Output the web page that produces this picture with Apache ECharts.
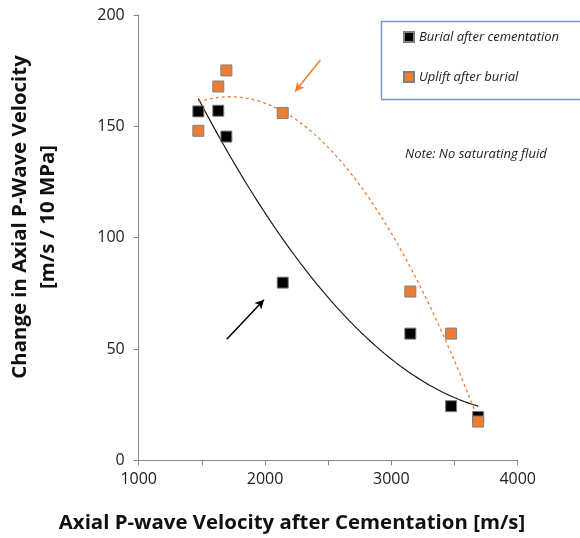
<!DOCTYPE html>
<html><head><meta charset="utf-8">
<script src="https://cdn.jsdelivr.net/npm/echarts@6/dist/echarts.min.js"></script>
<style>html,body{margin:0;padding:0;background:#fff}#c{width:580px;height:538px}</style>
</head><body><div id="c"></div>
<script>
// ---- data ----
const velocity = [1472, 1630, 1694, 2140, 3150, 3473, 3687];
const burialChange = [156.7, 157, 145.4, 79.8, 56.9, 24.3, 19.5];
const upliftChange = [148, 167.9, 175.1, 156, 75.8, 56.9, 17.4];
const seriesNames = ['Burial after cementation', 'Uplift after burial'];
const xAxisTitle = 'Axial P-wave Velocity after Cementation [m/s]';
const yAxisTitle = 'Change in Axial P-Wave Velocity\n[m/s / 10 MPa]';
const noteText = 'Note: No saturating fluid';
// annotation arrows [x0,y0,x1,y1] in data units
const orangeArrow = [2438, 179.8, 2238, 165.6];
const blackArrow = [1697, 54.4, 1992, 72.1];

// quadratic least-squares trendline (like Excel poly order 2)
function polyfit2(xs, ys) {
  const n = xs.length, c = 2500, s = 1000;
  let S = [0,0,0,0,0], T = [0,0,0];
  for (let i = 0; i < n; i++) {
    const u = (xs[i] - c) / s;
    let p = 1;
    for (let k = 0; k < 5; k++) { S[k] += p; if (k < 3) T[k] += p * ys[i]; p *= u; }
  }
  const A = [[S[0],S[1],S[2],T[0]],[S[1],S[2],S[3],T[1]],[S[2],S[3],S[4],T[2]]];
  for (let i = 0; i < 3; i++) {
    for (let j = i + 1; j < 3; j++) {
      const f = A[j][i] / A[i][i];
      for (let k = i; k < 4; k++) A[j][k] -= f * A[i][k];
    }
  }
  const r = [0,0,0];
  for (let i = 2; i >= 0; i--) {
    let v = A[i][3];
    for (let k = i + 1; k < 3; k++) v -= A[i][k] * r[k];
    r[i] = v / A[i][i];
  }
  return x => { const u = (x - c) / s; return r[0] + r[1]*u + r[2]*u*u; };
}
function trend(xs, ys) {
  const f = polyfit2(xs, ys);
  const lo = Math.min(...xs), hi = Math.max(...xs), out = [];
  for (let i = 0; i <= 120; i++) { const x = lo + (hi - lo) * i / 120; out.push([x, f(x)]); }
  return out;
}
const pairs = (xs, ys) => xs.map((x, i) => [x, ys[i]]);

const chart = echarts.init(document.getElementById('c'), null, {renderer: 'canvas'});
const axisCol = '#868686';
const font = '"Open Sans", "Liberation Sans", sans-serif';
chart.setOption({
  animation: false,
  backgroundColor: '#fff',
  grid: {left: 138.7, right: 62.3, top: 15, bottom: 77.7, containLabel: false},
  xAxis: {
    type: 'value', min: 1000, max: 4000, interval: 500,
    axisLine: {show: true, lineStyle: {color: axisCol, width: 1}},
    axisTick: {show: true, length: 5, lineStyle: {color: axisCol}},
    splitLine: {show: false},
    axisLabel: {color: '#222', fontSize: 16, fontFamily: font, margin: 11,
      formatter: v => (v % 1000 === 0 ? String(v) : '')}
  },
  yAxis: {
    type: 'value', min: 0, max: 200, interval: 50,
    axisLine: {show: true, lineStyle: {color: axisCol, width: 1}},
    axisTick: {show: true, length: 5, lineStyle: {color: axisCol}},
    splitLine: {show: false},
    axisLabel: {color: '#222', fontSize: 16, fontFamily: font, margin: 14}
  },
  legend: {
    data: seriesNames, orient: 'vertical', left: 403, top: 30, padding: 0,
    itemWidth: 10, itemHeight: 10, itemGap: 26, icon: 'rect',
    textStyle: {fontSize: 13, fontStyle: 'italic', fontFamily: font, color: '#222', lineHeight: 14}
  },
  graphic: [
    {type: 'rect', left: 379, top: 19, shape: {width: 220, height: 78},
      style: {fill: 'none', stroke: '#7796d0', lineWidth: 1.5}, z: 10},
    {type: 'text', left: 405, top: 148,
      style: {text: noteText, font: 'italic 13px ' + font, fill: '#222'}},
    {type: 'text', x: 292, y: 523,
      style: {text: xAxisTitle, font: 'bold 20.4px ' + font, fill: '#111', align: 'center', verticalAlign: 'middle'}},
    {type: 'text', x: 34, y: 217, rotation: Math.PI / 2,
      style: {text: yAxisTitle, font: 'bold 20.4px ' + font, fill: '#111', align: 'center', verticalAlign: 'middle', lineHeight: 28}}
  ],
  series: [
    {type: 'line', name: 'burialTrend', data: trend(velocity, burialChange), showSymbol: false, smooth: false,
      lineStyle: {color: '#1a1a1a', width: 1.2}, z: 1, silent: true,
      markLine: {silent: true, symbol: ['none', 'arrow'], symbolSize: [7, 9], label: {show: false},
        lineStyle: {color: '#000', width: 1.5, type: 'solid'},
        data: [[{coord: [blackArrow[0], blackArrow[1]]}, {coord: [blackArrow[2], blackArrow[3]]}]]}},
    {type: 'line', name: 'upliftTrend', data: trend(velocity, upliftChange), showSymbol: false, smooth: false,
      lineStyle: {color: '#ED7D31', width: 1.3, type: [3, 3]}, z: 1, silent: true,
      markLine: {silent: true, symbol: ['none', 'arrow'], symbolSize: [7, 9], label: {show: false},
        lineStyle: {color: '#ED7D31', width: 1.5, type: 'solid'},
        data: [[{coord: [orangeArrow[0], orangeArrow[1]]}, {coord: [orangeArrow[2], orangeArrow[3]]}]]}},
    {type: 'scatter', name: seriesNames[0], data: pairs(velocity, burialChange), symbol: 'rect', symbolSize: 11,
      itemStyle: {color: '#000', borderColor: '#7f7f7f', borderWidth: 1, opacity: 1}, z: 3},
    {type: 'scatter', name: seriesNames[1], data: pairs(velocity, upliftChange), symbol: 'rect', symbolSize: 11,
      itemStyle: {color: '#ED7D31', borderColor: '#7f7f7f', borderWidth: 1, opacity: 1}, z: 4}
  ]
});
</script></body></html>
